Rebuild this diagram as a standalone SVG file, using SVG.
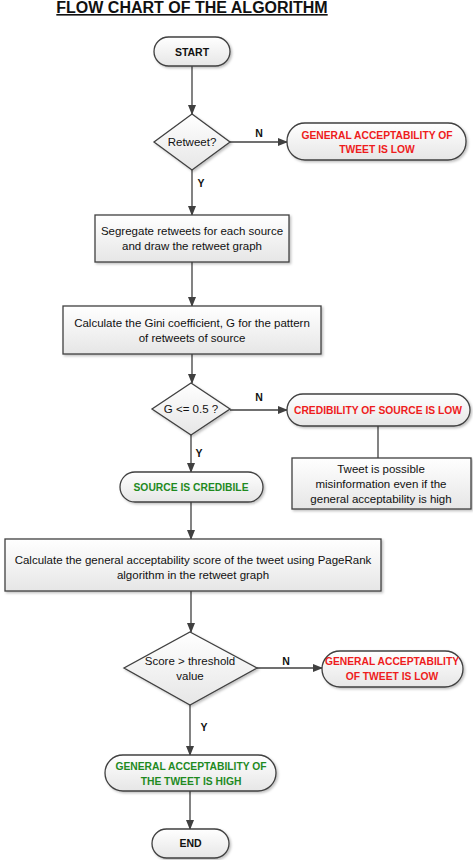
<svg xmlns="http://www.w3.org/2000/svg" width="473" height="860" viewBox="0 0 473 860">
<defs>
<linearGradient id="g" x1="0" y1="0" x2="0" y2="1">
<stop offset="0" stop-color="#ffffff"/>
<stop offset="1" stop-color="#e6e6e6"/>
</linearGradient>
<marker id="ah" markerWidth="10" markerHeight="8" refX="9" refY="4" orient="auto" markerUnits="userSpaceOnUse">
<path d="M0,0 L10,4 L0,8 z" fill="#404040"/>
</marker>
<filter id="sh" x="-10%" y="-10%" width="130%" height="140%">
<feDropShadow dx="1.5" dy="1.5" stdDeviation="1" flood-color="#000" flood-opacity="0.25"/>
</filter>
</defs>
<style>
.s{fill:url(#g);stroke:#404040;stroke-width:1.3;filter:url(#sh)}
.t{font-family:"Liberation Sans",Arial,sans-serif;font-size:11.5px;fill:#111;text-anchor:middle}
.b{font-weight:bold;font-size:10.5px}
.r{fill:#ee1c1c;font-weight:bold;font-size:10.3px}
.gr{fill:#1f8a1f;font-weight:bold;font-size:10.3px}
.c{stroke:#404040;stroke-width:1.3;fill:none}
.l{font-family:"Liberation Sans",Arial,sans-serif;font-size:10.5px;font-weight:bold;fill:#111;text-anchor:middle}
</style>
<rect width="473" height="860" fill="#ffffff"/>
<g id="title">
<text x="192" y="13" font-family="'Liberation Sans',Arial,sans-serif" font-size="16" font-weight="bold" text-anchor="middle" fill="#111" text-decoration="underline">FLOW CHART OF THE ALGORITHM</text>
</g>
<g id="connectors">
<line class="c" x1="192" y1="66" x2="192" y2="114" marker-end="url(#ah)"/>
<line class="c" x1="230" y1="142" x2="287" y2="142" marker-end="url(#ah)"/>
<line class="c" x1="192" y1="170" x2="192" y2="215" marker-end="url(#ah)"/>
<line class="c" x1="192" y1="262" x2="192" y2="306" marker-end="url(#ah)"/>
<line class="c" x1="192" y1="354" x2="192" y2="383" marker-end="url(#ah)"/>
<line class="c" x1="230" y1="410" x2="287" y2="410" marker-end="url(#ah)"/>
<line class="c" x1="378" y1="426" x2="378" y2="458"/>
<line class="c" x1="191" y1="435" x2="191" y2="472" marker-end="url(#ah)"/>
<line class="c" x1="191" y1="502" x2="191" y2="539" marker-end="url(#ah)"/>
<line class="c" x1="191" y1="591" x2="191" y2="632" marker-end="url(#ah)"/>
<line class="c" x1="257" y1="668" x2="322" y2="668" marker-end="url(#ah)"/>
<line class="c" x1="190" y1="705" x2="190" y2="755" marker-end="url(#ah)"/>
<line class="c" x1="190" y1="791" x2="190" y2="829" marker-end="url(#ah)"/>
<text class="l" x="259" y="137">N</text>
<text class="l" x="201" y="187">Y</text>
<text class="l" x="259" y="401">N</text>
<text class="l" x="199" y="457">Y</text>
<text class="l" x="286" y="665">N</text>
<text class="l" x="204" y="731">Y</text>
</g>
<g id="start">
<rect class="s" x="154" y="37" width="76" height="29" rx="14.5"/>
<text class="t b" x="192" y="55.5">START</text>
</g>
<g id="retweet">
<polygon class="s" points="192,114 230,142 192,170 154,142"/>
<text class="t" x="192" y="146">Retweet?</text>
</g>
<g id="low1">
<rect class="s" x="287" y="123" width="179" height="37" rx="18"/>
<text class="t r" x="377" y="139">GENERAL ACCEPTABILITY OF</text>
<text class="t r" x="377" y="153">TWEET IS LOW</text>
</g>
<g id="segregate">
<rect class="s" x="95" y="215" width="194" height="47"/>
<text class="t" x="192" y="235">Segregate retweets for each source</text>
<text class="t" x="192" y="250">and draw the retweet graph</text>
</g>
<g id="gini">
<rect class="s" x="63" y="306" width="258" height="48"/>
<text class="t" x="192" y="327">Calculate  the Gini coefficient, G for the pattern</text>
<text class="t" x="192" y="342">of retweets of source</text>
</g>
<g id="gtest">
<polygon class="s" points="191,383 230,409 191,435 152,409"/>
<text class="t" x="191" y="413">G &lt;= 0.5 ?</text>
</g>
<g id="credlow">
<rect class="s" x="287" y="394" width="183" height="32" rx="16"/>
<text class="t r" x="378" y="414">CREDIBILITY OF SOURCE IS LOW</text>
</g>
<g id="misinfo">
<rect class="s" x="292" y="458" width="179" height="51"/>
<text class="t" x="381" y="473">Tweet is possible</text>
<text class="t" x="381" y="488">misinformation even if the</text>
<text class="t" x="381" y="503">general acceptability is high</text>
</g>
<g id="credible">
<rect class="s" x="120" y="472" width="143" height="30" rx="15"/>
<text class="t gr" x="191" y="491">SOURCE IS CREDIBILE</text>
</g>
<g id="pagerank">
<rect class="s" x="5" y="539" width="376" height="52"/>
<text class="t" x="193" y="564">Calculate  the general acceptability score of the tweet using PageRank</text>
<text class="t" x="193" y="579">algorithm in the retweet graph</text>
</g>
<g id="score">
<polygon class="s" points="190,632 257,668 190,705 124,668"/>
<text class="t" x="190" y="665">Score &gt; threshold</text>
<text class="t" x="190" y="680">value</text>
</g>
<g id="low2">
<rect class="s" x="322" y="651" width="141" height="36" rx="18"/>
<text class="t r" x="392" y="665">GENERAL ACCEPTABILITY</text>
<text class="t r" x="392" y="680">OF TWEET IS LOW</text>
</g>
<g id="high">
<rect class="s" x="105" y="755" width="171" height="36" rx="18"/>
<text class="t gr" x="191" y="770">GENERAL ACCEPTABILITY OF</text>
<text class="t gr" x="191" y="785">THE TWEET IS HIGH</text>
</g>
<g id="end">
<rect class="s" x="152" y="829" width="77" height="29" rx="14.5"/>
<text class="t b" x="190.5" y="847">END</text>
</g>
</svg>
